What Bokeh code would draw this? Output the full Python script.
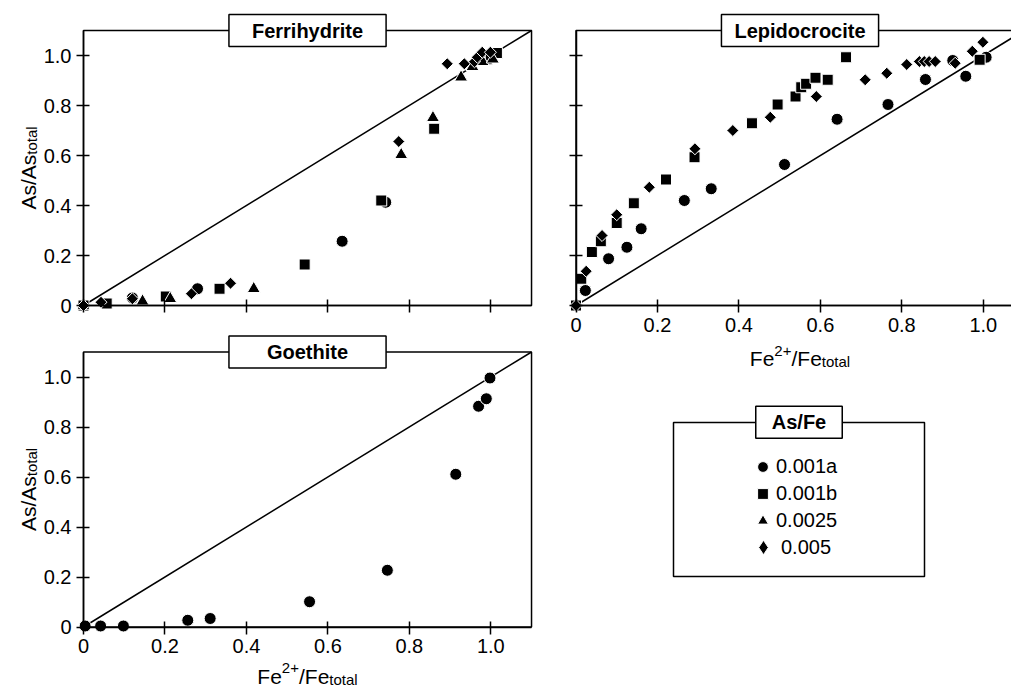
import numpy as np
from bokeh.plotting import figure
from bokeh.layouts import row, column
from bokeh.models import Range1d, FixedTicker, Label, Legend, LegendItem, BoxAnnotation
from bokeh.core.properties import value
from bokeh.embed import file_html
from bokeh.resources import INLINE

FONT = "Liberation Sans"

# ---- axes ----------------------------------------------------------------
AX_MAX = 1.1                      # both axes run 0 .. 1.1
ONE_TO_ONE = [0, AX_MAX]          # 1:1 reference line
ticks = [0, 0.2, 0.4, 0.6, 0.8, 1.0]
tick_labels = ["0", "0.2", "0.4", "0.6", "0.8", "1.0"]

# ---- As/Fe ratios (legend) -----------------------------------------------
series = ["0.001a", "0.001b", "0.0025", "0.005"]

# ---- Ferrihydrite: Fe2+/Fe_total (x) vs As/As_total (y) ------------------
ferri_a_x = [0.0, 0.12, 0.28, 0.635, 0.742, 0.975, 0.99]
ferri_a_y = [0.0, 0.03, 0.067, 0.257, 0.413, 0.99, 1.0]
ferri_b_x = [0.0, 0.057, 0.202, 0.334, 0.543, 0.731, 0.861, 0.99, 1.0, 1.015]
ferri_b_y = [0.0, 0.008, 0.036, 0.067, 0.164, 0.42, 0.707, 0.985, 1.0, 1.01]
ferri_c_x = [0.0, 0.145, 0.213, 0.418, 0.78, 0.858, 0.927, 0.955, 0.98, 1.005]
ferri_c_y = [0.0, 0.017, 0.027, 0.067, 0.603, 0.751, 0.913, 0.955, 0.975, 0.985]
ferri_d_x = [0.0, 0.043, 0.12, 0.265, 0.361, 0.774, 0.893, 0.935, 0.96, 0.967, 0.979, 0.999]
ferri_d_y = [0.0, 0.013, 0.027, 0.047, 0.089, 0.656, 0.967, 0.967, 0.975, 0.993, 1.013, 1.013]

# ---- Lepidocrocite -------------------------------------------------------
lepi_a_x = [0.0, 0.023, 0.08, 0.125, 0.16, 0.266, 0.332, 0.512, 0.641, 0.766, 0.858, 0.925, 0.957, 1.007]
lepi_a_y = [0.0, 0.06, 0.187, 0.233, 0.307, 0.42, 0.467, 0.564, 0.745, 0.804, 0.904, 0.98, 0.917, 0.993]
lepi_b_x = [0.0, 0.013, 0.039, 0.061, 0.1, 0.142, 0.221, 0.291, 0.432, 0.495, 0.539, 0.553, 0.565,
            0.588, 0.618, 0.663, 0.991]
lepi_b_y = [0.0, 0.107, 0.214, 0.257, 0.33, 0.409, 0.504, 0.593, 0.729, 0.804, 0.836, 0.873, 0.887,
            0.911, 0.903, 0.993, 0.983]
lepi_d_x = [0.0, 0.025, 0.064, 0.1, 0.18, 0.292, 0.385, 0.477, 0.59, 0.71, 0.763, 0.812, 0.843,
            0.855, 0.867, 0.882, 0.931, 0.973, 0.999]
lepi_d_y = [0.0, 0.137, 0.28, 0.363, 0.473, 0.627, 0.7, 0.753, 0.836, 0.903, 0.929, 0.964, 0.976,
            0.976, 0.976, 0.976, 0.969, 1.017, 1.053]

# ---- Goethite ------------------------------------------------------------
goe_a_x = [0.004, 0.042, 0.098, 0.256, 0.311, 0.555, 0.746, 0.914, 0.970, 0.989, 0.998]
goe_a_y = [0.004, 0.004, 0.004, 0.027, 0.034, 0.101, 0.227, 0.611, 0.883, 0.913, 0.996]

STYLE = {
    "0.001a": dict(marker="circle", size=12, angle=0.0),
    "0.001b": dict(marker="square", size=11, angle=0.0),
    "0.0025": dict(marker="triangle", size=13, angle=0.0),
    "0.005": dict(marker="square", size=8.5, angle=np.pi / 4),
}

PX_X = 407.3   # pixels per unit along x
PX_Y = 250.0   # pixels per unit along y

# Arial / Liberation Sans advance widths (per 1000 em) used to lay out
# the composite axis titles with super- and subscripts
ADV = {"F": 611, "e": 556, "2": 556, "+": 584, "/": 278, "t": 278, "o": 556,
       "a": 556, "l": 222, "A": 667, "s": 500}


def text_width(s, size):
    return sum(ADV[c] for c in s) * size / 1000.0


def panel(width, height, x0_px, y0_px, xlabels, ylabels):
    """The plot frame fills the whole canvas; the axes sit at x = 0 / y = 0.
    x0_px / y0_px: distance from the canvas's left / bottom edge to the origin."""
    p = figure(width=width, height=height,
               x_range=Range1d(-x0_px / PX_X, (width - x0_px) / PX_X),
               y_range=Range1d(-y0_px / PX_Y, (height - y0_px) / PX_Y),
               min_border=0, output_backend="svg", toolbar_location=None)
    p.grid.visible = False
    p.outline_line_color = None
    p.background_fill_color = "white"
    p.border_fill_color = "white"
    for ax, show in ((p.xaxis[0], xlabels), (p.yaxis[0], ylabels)):
        ax.fixed_location = 0
        ax.bounds = (0, AX_MAX)
        ax.ticker = FixedTicker(ticks=ticks)
        ax.minor_tick_line_color = None
        ax.major_tick_in = 6
        ax.major_tick_out = 7
        ax.axis_line_width = 1.5
        ax.major_tick_line_width = 1.5
        ax.axis_line_color = "black"
        ax.major_tick_line_color = "black"
        ax.major_label_text_font = FONT
        ax.major_label_text_font_size = "20px"
        ax.major_label_text_color = "black"
        ax.major_label_standoff = 5
        if show:
            ax.major_label_overrides = dict(zip(ticks, tick_labels))
        else:
            ax.major_label_overrides = {t: "" for t in ticks}
    # panel box
    p.add_layout(BoxAnnotation(left=0, right=AX_MAX, bottom=0, top=AX_MAX, fill_alpha=0,
                               line_color="black", line_alpha=1, line_width=1.5))
    p.line(ONE_TO_ONE, ONE_TO_ONE, line_color="black", line_width=1.5)
    return p


def draw(p, xs, ys, name, marker=None):
    st = STYLE[name]
    return p.scatter(xs, ys, marker=marker or st["marker"], size=st["size"], angle=st["angle"],
                     fill_color="black", line_color="white", line_width=1)


def boxed_title(p, text, pad_x, **pos):
    p.add_layout(Label(text=text, text_align="center", text_baseline="middle",
                       text_font=FONT, text_font_size="20px", text_font_style="bold",
                       text_color="black", background_fill_color="white",
                       border_line_color="black", border_line_width=1.5,
                       padding=dict(left=pad_x, right=pad_x, top=5, bottom=5), **pos))


def x_title(p, base=-53):
    pieces = [("Fe", 21, 0), ("2+", 15, 8), ("/Fe", 21, 0), ("total", 15, -3)]
    total = sum(text_width(t, s) for t, s, _ in pieces)
    acc = -total / 2
    for t, s, shift in pieces:
        p.add_layout(Label(x=0.55 + acc / PX_X, y=(base + shift) / PX_Y, text=t,
                           text_align="left", text_baseline="alphabetic", text_font=FONT,
                           text_font_size=f"{s}px", text_color="black"))
        acc += text_width(t, s)


def y_title(p):
    pieces = [("As/As", 21, 0), ("total", 15, 3)]
    total = sum(text_width(t, s) for t, s, _ in pieces)
    acc = -total / 2
    for t, s, shift in pieces:
        p.add_layout(Label(x=(-55 + shift) / PX_X, y=0.55 + acc / PX_Y, angle=np.pi / 2,
                           text=t, text_align="left", text_baseline="alphabetic",
                           text_font=FONT, text_font_size=f"{s}px", text_color="black"))
        acc += text_width(t, s)


# ---- Ferrihydrite panel --------------------------------------------------
p1 = panel(536, 330, 83, 25, xlabels=False, ylabels=True)
for xs, ys, name in ((ferri_a_x, ferri_a_y, "0.001a"), (ferri_b_x, ferri_b_y, "0.001b"),
                     (ferri_c_x, ferri_c_y, "0.0025"), (ferri_d_x, ferri_d_y, "0.005")):
    draw(p1, xs, ys, name)
boxed_title(p1, "Ferrihydrite", 23, x=0.55, y=AX_MAX)
y_title(p1)

# ---- Goethite panel ------------------------------------------------------
p3 = panel(536, 359, 83, 62.5, xlabels=True, ylabels=True)
draw(p3, goe_a_x, goe_a_y, "0.001a")
boxed_title(p3, "Goethite", 38, x=0.55, y=AX_MAX)
y_title(p3)
x_title(p3, base=-49)

# ---- Lepidocrocite panel -------------------------------------------------
p2 = panel(475, 390, 39.5, 85, xlabels=True, ylabels=False)
for xs, ys, name in ((lepi_a_x, lepi_a_y, "0.001a"), (lepi_b_x, lepi_b_y, "0.001b"),
                     (lepi_d_x, lepi_d_y, "0.005")):
    draw(p2, xs, ys, name)
boxed_title(p2, "Lepidocrocite", 13, x=0.55, y=AX_MAX)
x_title(p2)

# ---- legend box ----------------------------------------------------------
# the key glyphs reuse the ferrihydrite series; the ranges keep those
# points out of view so only the legend swatches show
p4 = figure(width=475, height=299, x_range=Range1d(2, 3), y_range=Range1d(2, 3),
            x_axis_type=None, y_axis_type=None, min_border=0, output_backend="svg",
            toolbar_location=None)
p4.grid.visible = False
p4.outline_line_color = None
key_data = {"0.001a": (ferri_a_x, ferri_a_y), "0.001b": (ferri_b_x, ferri_b_y),
            "0.0025": (ferri_c_x, ferri_c_y), "0.005": (ferri_d_x, ferri_d_y)}
keys = {name: draw(p4, *key_data[name], name,
                   marker="diamond" if name == "0.005" else None) for name in series}

p4.add_layout(BoxAnnotation(left=137, right=388, bottom=113, top=267,
                            left_units="screen", right_units="screen",
                            bottom_units="screen", top_units="screen",
                            fill_alpha=0, line_color="black", line_alpha=1, line_width=1.5))

common = dict(spacing=0, padding=0, margin=0, label_text_font=FONT, label_text_font_size="20px",
              label_text_color="black", border_line_color=None, background_fill_alpha=0)
leg1 = Legend(items=[LegendItem(label=value(n), renderers=[keys[n]]) for n in series[:3]],
              location=(213, 155), glyph_width=27, glyph_height=27, label_height=27,
              label_standoff=0, **common)
leg2 = Legend(items=[LegendItem(label=value(series[3]), renderers=[keys[series[3]]])],
              location=(209, 124), glyph_width=36, glyph_height=36, label_height=36,
              label_standoff=-5, **common)
p4.add_layout(leg1)
p4.add_layout(leg2)
boxed_title(p4, "As/Fe", 16, x=262.5, y=267.3, x_units="screen", y_units="screen")

layout = row(column(p1, p3), column(p2, p4))
open("out.html", "w").write(file_html(layout, INLINE))
